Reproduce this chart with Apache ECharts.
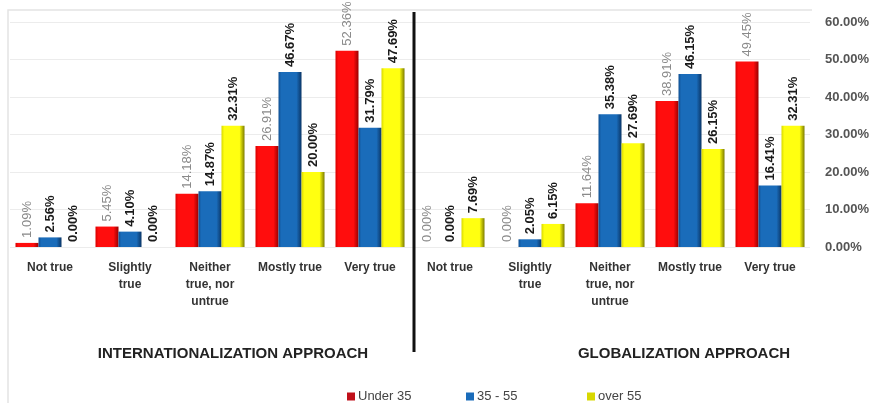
<!DOCTYPE html>
<html>
<head>
<meta charset="utf-8">
<script src="https://cdn.jsdelivr.net/npm/echarts@6/dist/echarts.min.js"></script>
<style>
  html, body { margin: 0; padding: 0; background: #ffffff; }
  #chart { width: 873px; height: 403px; }
</style>
</head>
<body>
<div id="chart"></div>
<script>
// Response categories (shared by both approaches)
const responses = ['Not true', 'Slightly\ntrue', 'Neither\ntrue, nor\nuntrue', 'Mostly true', 'Very true'];

// Internationalization approach, percent of respondents by age group
const intlUnder35 = [1.09, 5.45, 14.18, 26.91, 52.36];
const intl35to55  = [2.56, 4.10, 14.87, 46.67, 31.79];
const intlOver55  = [0.00, 0.00, 32.31, 20.00, 47.69];

// Globalization approach, percent of respondents by age group
const globUnder35 = [0.00, 0.00, 11.64, 38.91, 49.45];
const glob35to55  = [0.00, 2.05, 35.38, 46.15, 16.41];
const globOver55  = [7.69, 6.15, 27.69, 26.15, 32.31];

const seriesNames = ['Under 35', '35 - 55', 'over 55'];
const yTicks = [0, 10, 20, 30, 40, 50, 60];
const groupTitles = ['INTERNATIONALIZATION APPROACH', 'GLOBALIZATION APPROACH'];

const categories = responses.concat(responses);

// shaded bar fill: dark edges, bright face
function barFill(edgeL, face, edgeR) {
  return new echarts.graphic.LinearGradient(0, 0, 1, 0, [
    { offset: 0, color: edgeL },
    { offset: 0.12, color: face },
    { offset: 0.78, color: face },
    { offset: 1, color: edgeR }
  ]);
}

const styles = [
  { fill: barFill('#d80000', '#ff0d0d', '#9a0000'), legend: '#c0101a', label: '#8a8a8a', weight: 'normal' },
  { fill: barFill('#0f4f92', '#1a6cba', '#0a3566'), legend: '#1a6cba', label: '#1a1a1a', weight: 'bold' },
  { fill: barFill('#d8d800', '#ffff10', '#7c7c00'), legend: '#d8d800', label: '#1a1a1a', weight: 'bold' }
];

const seriesData = [
  intlUnder35.concat(globUnder35),
  intl35to55.concat(glob35to55),
  intlOver55.concat(globOver55)
];

// one legend block per age group, evenly spaced along the bottom
const legendLefts = [342, 461, 582];

const chart = echarts.init(document.getElementById('chart'), null, { renderer: 'canvas' });

chart.setOption({
  animation: false,
  backgroundColor: '#ffffff',
  textStyle: { fontFamily: 'Arial, "Liberation Sans", sans-serif' },
  title: groupTitles.map((t, i) => ({
    text: t,
    left: i === 0 ? 228 : 679,
    top: 341,
    textAlign: 'center',
    textStyle: { fontSize: 15, fontWeight: 'bold', color: '#222', fontFamily: 'Arial, "Liberation Sans", sans-serif' }
  })),
  legend: seriesNames.map((n, i) => ({
    data: [{ name: n, itemStyle: { color: styles[i].legend } }],
    left: legendLefts[i],
    top: 385,
    icon: 'rect',
    itemWidth: 8,
    itemHeight: 8,
    textStyle: { fontSize: 13, color: '#444', padding: [0, 0, 0, -2] }
  })),
  grid: { left: 10, right: 63, top: 22, bottom: 156, containLabel: false },
  xAxis: {
    type: 'category',
    data: categories,
    axisLine: { show: false },
    axisTick: { show: false },
    axisLabel: {
      interval: 0,
      margin: 12,
      fontSize: 12,
      fontWeight: 'bold',
      color: '#333',
      lineHeight: 17,
      verticalAlign: 'top'
    }
  },
  yAxis: {
    type: 'value',
    position: 'right',
    min: yTicks[0],
    max: yTicks[yTicks.length - 1],
    interval: 10,
    axisLine: { show: false },
    axisTick: { show: false },
    splitLine: { lineStyle: { color: '#ececec', width: 1 } },
    axisLabel: {
      margin: 15,
      fontSize: 13,
      fontWeight: 'bold',
      color: '#555',
      formatter: v => v.toFixed(2) + '%'
    }
  },
  series: seriesNames.map((name, i) => ({
    name,
    type: 'bar',
    data: seriesData[i],
    barWidth: 23,
    barGap: '0%',
    itemStyle: { color: styles[i].fill },
    label: {
      show: true,
      position: 'top',
      rotate: 90,
      align: 'left',
      verticalAlign: 'middle',
      distance: 5,
      fontSize: 13,
      fontWeight: styles[i].weight,
      color: styles[i].label,
      formatter: p => p.value.toFixed(2) + '%'
    }
  })),
  graphic: [
    // light frame on the top and left edges
    {
      type: 'polyline',
      shape: { points: [[8, 403], [8, 10], [812, 10]] },
      style: { stroke: '#e4e4e4', lineWidth: 1.5, fill: null },
      silent: true
    },
    // heavy divider between the two approaches
    {
      type: 'line',
      shape: { x1: 414, y1: 12, x2: 414, y2: 352 },
      style: { stroke: '#111', lineWidth: 3 },
      silent: true,
      z: 10
    }
  ]
});
</script>
</body>
</html>
